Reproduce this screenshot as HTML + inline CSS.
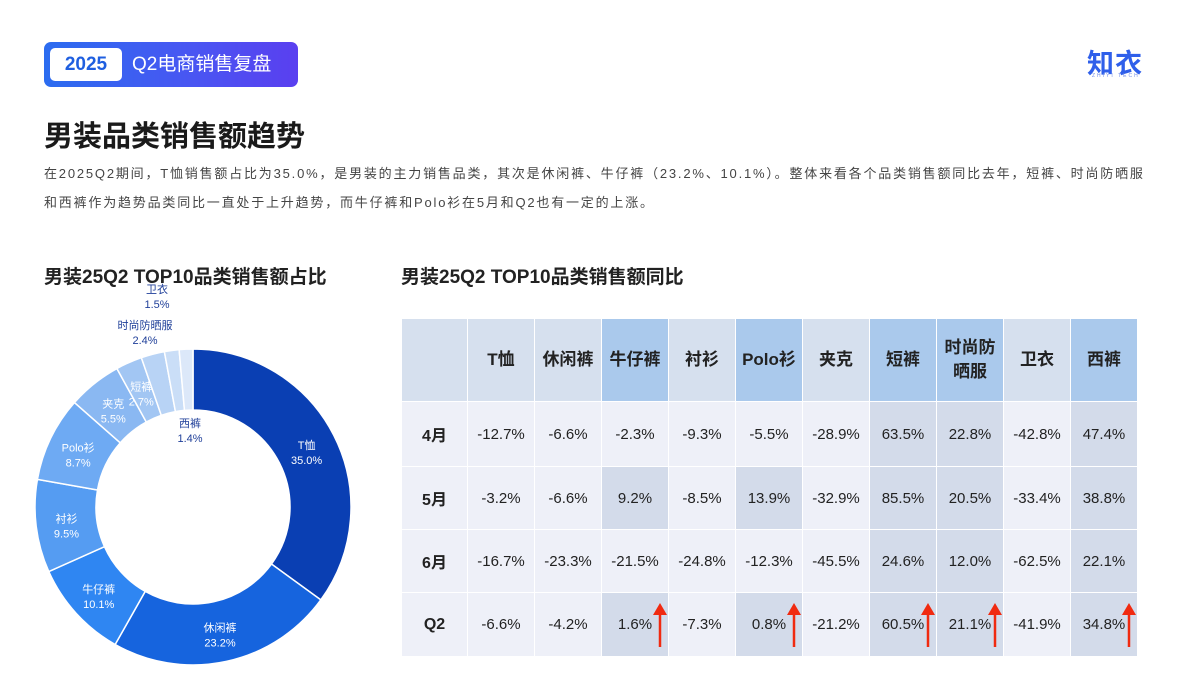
<!DOCTYPE html>
<html><head><meta charset="utf-8">
<style>
html,body{margin:0;padding:0;background:#fff;}
body{width:1200px;height:678px;position:relative;overflow:hidden;font-family:"Liberation Sans","Noto Sans CJK SC",sans-serif;color:#222;}
.abs{position:absolute;}
#badge{left:44px;top:42px;width:254px;height:45px;border-radius:7px;background:linear-gradient(90deg,#2b6cf0,#4a55f2 60%,#5a3ff0);}
#badge-year{left:6px;top:6px;width:72px;height:33px;background:#fff;border-radius:5px;color:#1f5fe0;font-weight:bold;font-size:19px;line-height:33px;text-align:center;}
#badge-text{left:88px;top:0;line-height:45px;color:#fff;font-size:19px;}
#logo{left:1087px;top:42px;font-size:27px;color:#2f5fea;font-weight:bold;letter-spacing:1px;}
#logo-sub{left:1092px;top:73px;font-size:5px;color:#6e8ae8;letter-spacing:2px;}
#title{left:44px;top:113px;font-size:29px;font-weight:bold;color:#1a1a1a;}
#desc{left:44px;top:159px;width:1140px;font-size:13px;line-height:29px;color:#444;letter-spacing:1.8px;white-space:nowrap;}
.sub{font-size:19px;font-weight:bold;color:#222;top:262px;}
table{border-collapse:collapse;table-layout:fixed;width:737px;}
td{border:1.5px solid #fff;text-align:center;font-size:15px;color:#222;padding:0;overflow:visible;}
</style></head><body>
<div id="badge" class="abs">
 <div id="badge-year" class="abs">2025</div>
 <div id="badge-text" class="abs">Q2电商销售复盘</div>
</div>
<div id="logo" class="abs">知衣</div>
<div id="logo-sub" class="abs">ZHIYI TECH</div>
<div id="title" class="abs">男装品类销售额趋势</div>
<div id="desc" class="abs">在2025Q2期间，T恤销售额占比为35.0%，是男装的主力销售品类，其次是休闲裤、牛仔裤（23.2%、10.1%）。整体来看各个品类销售额同比去年，短裤、时尚防晒服<br>和西裤作为趋势品类同比一直处于上升趋势，而牛仔裤和Polo衫在5月和Q2也有一定的上涨。</div>
<div class="abs sub" style="left:44px">男装25Q2 TOP10品类销售额占比</div>
<div class="abs sub" style="left:401px">男装25Q2 TOP10品类销售额同比</div>

<svg id="donut" class="abs" style="left:0;top:270px" width="400" height="408"></svg>
<div id="tablewrap" class="abs" style="left:401px;top:318px"></div>

<script>
const categories=["T恤","休闲裤","牛仔裤","衬衫","Polo衫","夹克","短裤","时尚防晒服","卫衣","西裤"];
const shares=[35.0,23.2,10.1,9.5,8.7,5.5,2.7,2.4,1.5,1.4];
const colors=["#0a3fb3","#1664de","#2f86f2","#559cf2","#6eaaf3","#8ab8f2","#a2c6f3","#b8d3f5","#cadef7","#dce8f9"];
const cx=193,cy=237,R=158,r=97;
const svg=document.getElementById('donut');
const NS="http://www.w3.org/2000/svg";
const total=shares.reduce((a,b)=>a+b,0);
function ang(v){return v/total*2*Math.PI-Math.PI/2;}
function pt(a,rad){return [cx+rad*Math.cos(a),cy+rad*Math.sin(a)];}
let acc=0;
shares.forEach((v,i)=>{
 const a0=ang(acc),a1=ang(acc+v);acc+=v;
 const large=(a1-a0)>Math.PI?1:0;
 const p0=pt(a0,R),p1=pt(a1,R),q1=pt(a1,r),q0=pt(a0,r);
 const p=document.createElementNS(NS,'path');
 p.setAttribute('d',`M${p0}A${R},${R} 0 ${large} 1 ${p1}L${q1}A${r},${r} 0 ${large} 0 ${q0}Z`);
 p.setAttribute('fill',colors[i]);p.setAttribute('stroke','#fff');p.setAttribute('stroke-width','1.5');
 
 
 svg.appendChild(p);
 const am=(a0+a1)/2;
 let lp=pt(am,(R+r)/2), fill='#fff';
 if(i===7){lp=[145,59];fill='#1f3f99';}
 if(i===8){lp=[157,23];fill='#1f3f99';}
 if(i===9){lp=[190,157];fill='#1f3f99';}
 [categories[i],v.toFixed(1)+'%'].forEach((t,k)=>{
  const tx=document.createElementNS(NS,'text');
  tx.setAttribute('x',lp[0]);tx.setAttribute('y',lp[1]+(k?15:0));
  tx.setAttribute('text-anchor','middle');tx.setAttribute('font-size','11');tx.setAttribute('fill',fill);
  tx.textContent=t;
  
  
  svg.appendChild(tx);
 });
});

const cols=["T恤","休闲裤","牛仔裤","衬衫","Polo衫","夹克","短裤","时尚防<br>晒服","卫衣","西裤"];
const rows=["4月","5月","6月","Q2"];
const vals=[
 ["-12.7%","-6.6%","-2.3%","-9.3%","-5.5%","-28.9%","63.5%","22.8%","-42.8%","47.4%"],
 ["-3.2%","-6.6%","9.2%","-8.5%","13.9%","-32.9%","85.5%","20.5%","-33.4%","38.8%"],
 ["-16.7%","-23.3%","-21.5%","-24.8%","-12.3%","-45.5%","24.6%","12.0%","-62.5%","22.1%"],
 ["-6.6%","-4.2%","1.6%","-7.3%","0.8%","-21.2%","60.5%","21.1%","-41.9%","34.8%"]];
const trendCols=[6,7,9], partialCols=[2,4], partialRows=[1,3];
const headHi=[2,4,6,7,9];
let h='<table><colgroup><col style="width:66px">'+cols.map(()=>'<col style="width:67px">').join('')+'</colgroup>';
h+='<tr style="height:83px"><td style="background:#d6e0ee"></td>';
cols.forEach((c,i)=>{h+=`<td style="font-weight:bold;font-size:17px;line-height:24px;background:${headHi.includes(i)?'#aac9ec':'#d6e0ee'}">${c}</td>`;});
h+='</tr>';
const rh=[65,63,63,64];
rows.forEach((rw,ri)=>{
 h+=`<tr style="height:${rh[ri]}px"><td style="background:#eef0f8;font-weight:bold;font-size:16px">${rw}</td>`;
 vals[ri].forEach((v,ci)=>{
  const hi=trendCols.includes(ci)||(partialCols.includes(ci)&&partialRows.includes(ri));
  const up=ri===3&&headHi.includes(ci);
  h+=`<td style="position:relative;background:${hi?'#d3dbea':'#eef0f8'}">${v}${up?'<svg style="position:absolute;right:0;top:8px" width="16" height="48"><path d="M8 46V12" stroke="#f02a10" stroke-width="2.5"/><path d="M1 14L8 2L15 14Z" fill="#f02a10"/></svg>':''}</td>`;
 });
 h+='</tr>';
});
h+='</table>';
document.getElementById('tablewrap').innerHTML=h;
</script>
</body></html>
